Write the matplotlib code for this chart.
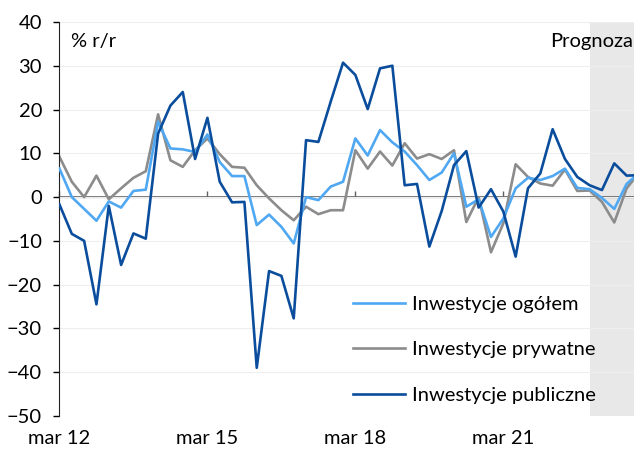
import matplotlib
matplotlib.use("Agg")
import matplotlib.pyplot as plt

# quarterly y/y growth, Q1 2012 onwards (last quarters = forecast)
ogolem = [6.5, 0, -2.7, -5.4, -1, -2.4, 1.4, 1.7, 17.2, 11.1, 10.9, 10.3,
          14.3, 8.0, 4.8, 4.8, -6.4, -4, -6.8, -10.6, 0, -0.7, 2.4, 3.5,
          13.4, 9.5, 15.3, 12.5, 10.4, 7.3, 3.9, 5.6, 10, -2.2, -0.5, -9.1,
          -4.9, 2, 4.4, 3.9, 4.8, 6.5, 2.1, 1.8, -0.2, -2.7, 3.0, 5.5]
prywatne = [9.2, 3.5, 0, 4.9, -0.5, 2, 4.4, 5.9, 18.9, 8.4, 6.9, 10.7,
            13.4, 9.8, 6.9, 6.7, 2.7, -0.3, -3, -5.3, -2.2, -3.9, -3, -3,
            10.7, 6.5, 10.4, 7.2, 12.3, 8.8, 9.8, 8.7, 10.7, -5.7, 0, -12.6,
            -6, 7.5, 4.6, 3.1, 2.6, 6.3, 1.4, 1.5, -1.1, -5.8, 2.0, 5.5]
publiczne = [-1.7, -8.4, -10, -24.5, -2, -15.5, -8.3, -9.5, 14.5, 20.9, 24, 8.7,
             18.1, 3.5, -1.2, -1.1, -39, -16.9, -18, -27.7, 13, 12.6, 21.8, 30.7,
             27.9, 20.1, 29.4, 30.0, 2.7, 3, -11.3, -3.2, 7.3, 10.5, -2.4, 1.8,
             -3.3, -13.6, 2, 5.4, 15.5, 8.7, 4.6, 2.7, 1.6, 7.7, 4.9, 5.0]
tick_pos = [0, 12, 24, 36]
tick_labels = ["mar 12", "mar 15", "mar 18", "mar 21"]
forecast_start = 43

plt.rcParams["font.family"] = ["Lato", "DejaVu Sans"]

fig = plt.figure(figsize=(6.34, 4.5), dpi=100)
ax = fig.add_axes([0.0938, 0.0756, 0.9062, 0.8756])

x = list(range(len(ogolem)))
ax.axvspan(forecast_start, 60, color="#e8e8e8", lw=0, zorder=0)
ax.grid(axis="y", color="#eeeeee", lw=0.8, zorder=0)
ax.axhline(0, color="#606060", lw=1.2, zorder=1)

ax.plot(x, ogolem, color="#50a8f2", lw=1.9, label="Inwestycje ogółem", zorder=3)
ax.plot(x, prywatne, color="#8c8c8c", lw=1.9, label="Inwestycje prywatne", zorder=2)
ax.plot(x, publiczne, color="#0a4d9c", lw=1.9, label="Inwestycje publiczne", zorder=4)

ax.set_xlim(0, 46.6)
ax.set_ylim(-50, 40)
ax.set_yticks(range(-50, 41, 10))
ax.tick_params(axis="y", length=4.5, width=1, labelsize=14.5, pad=8)
ax.set_xticks(tick_pos)
ax.set_xticklabels(tick_labels)
ax.tick_params(axis="x", length=0, labelsize=14.5, pad=10)
for s in ["top", "right", "bottom"]:
    ax.spines[s].set_visible(False)
ax.spines["left"].set_color("#222222")

# tick marks sitting on the zero line
zero_ax = ax.secondary_xaxis(50 / 90)
zero_ax.set_xticks(tick_pos)
zero_ax.set_xticklabels([])
zero_ax.tick_params(length=4, width=1, color="#606060")
zero_ax.spines["bottom"].set_visible(False)

ax.text(0.02, 0.95, "% r/r", transform=ax.transAxes, fontsize=14.5,
        va="center", ha="left")
ax.text(0.998, 0.95, "Prognoza", transform=ax.transAxes, fontsize=14.5,
        va="center", ha="right")

ax.legend(loc="upper left", bbox_to_anchor=(0.493, 0.33), frameon=False,
          fontsize=14.5, handlelength=2.6, handletextpad=0.35,
          labelspacing=1.4, borderpad=0)

fig.savefig("out.png", dpi=100)
